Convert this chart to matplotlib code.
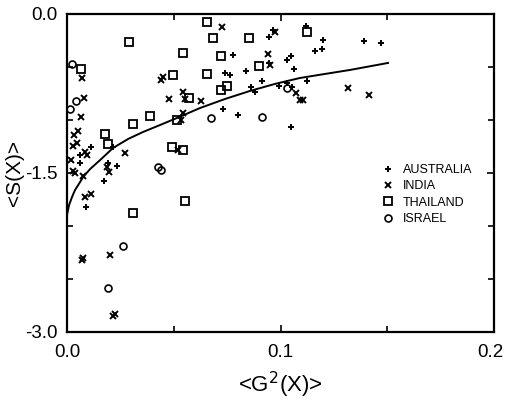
import matplotlib
matplotlib.use('Agg')
from matplotlib import pyplot as plt
from matplotlib import transforms

# values
aus_x = [0.0112, 0.0061, 0.0061, 0.0089, 0.0173, 0.0192, 0.0234, 0.0215, 0.0740, 0.0763,
         0.0731, 0.0801, 0.0778, 0.0946, 0.1119, 0.1199, 0.1162, 0.1194, 0.0946, 0.1030,
         0.1049, 0.1063, 0.0838, 0.0913, 0.0862, 0.0881, 0.0993, 0.1054, 0.1124, 0.1049,
         0.1391, 0.1471, 0.1030, 0.0965]
aus_y = [-1.255, -1.330, -1.406, -1.821, -1.575, -1.406, -1.434, -1.255, -0.557, -0.575,
         -0.896, -0.953, -0.387, -0.217, -0.113, -0.245, -0.349, -0.330, -0.462, -0.434,
         -0.396, -0.519, -0.538, -0.632, -0.689, -0.736, -0.679, -0.689, -0.632, -1.066,
         -0.255, -0.274, -0.651, -0.151]

ind_x = [0.0033, 0.0052, 0.0028, 0.0047, 0.0084, 0.0094, 0.0019, 0.0028, 0.0037, 0.0075,
         0.0084, 0.0112, 0.0070, 0.0075, 0.0201, 0.0225, 0.0215, 0.0070, 0.0080, 0.0066,
         0.0187, 0.0197, 0.0272, 0.0440, 0.0450, 0.0543, 0.0478, 0.0553, 0.0628, 0.0543,
         0.0534, 0.0520, 0.0726, 0.0974, 0.0941, 0.0951, 0.1073, 0.1091, 0.1105, 0.1316,
         0.1415]
ind_y = [-1.142, -1.104, -1.245, -1.217, -1.302, -1.330, -1.377, -1.481, -1.500, -1.528,
         -1.726, -1.698, -2.321, -2.300, -2.274, -2.830, -2.849, -0.604, -0.792, -0.972,
         -1.443, -1.491, -1.311, -0.623, -0.594, -0.736, -0.802, -0.802, -0.821, -0.934,
         -1.000, -1.283, -0.123, -0.170, -0.377, -0.481, -0.745, -0.811, -0.811, -0.698,
         -0.764]

tha_x = [0.0066, 0.0290, 0.0656, 0.0543, 0.0656, 0.0496, 0.0571, 0.0389, 0.0309, 0.0515,
         0.0178, 0.0192, 0.0492, 0.0543, 0.0553, 0.0309, 0.0684, 0.0852, 0.0721, 0.0899,
         0.0749, 0.0721, 0.1124]
tha_y = [-0.519, -0.264, -0.075, -0.368, -0.566, -0.575, -0.792, -0.962, -1.038, -1.000,
         -1.132, -1.226, -1.255, -1.283, -1.764, -1.877, -0.226, -0.226, -0.396, -0.491,
         -0.679, -0.717, -0.170]

isr_x = [0.0023, 0.0042, 0.0014, 0.0426, 0.0440, 0.0674, 0.0913, 0.1030, 0.0262, 0.0192]
isr_y = [-0.472, -0.821, -0.896, -1.443, -1.472, -0.981, -0.972, -0.698, -2.189, -2.585]

# fitted curve
fit_x = [0.0, 0.0009, 0.0023, 0.0037, 0.0052, 0.0075, 0.0108, 0.0155, 0.0215, 0.0286,
         0.0356, 0.0436, 0.0515, 0.0623, 0.0740, 0.0857, 0.0974, 0.1091, 0.1208, 0.1326,
         0.1504]
fit_y = [-1.887, -1.802, -1.726, -1.660, -1.613, -1.538, -1.462, -1.377, -1.264, -1.179,
         -1.113, -1.047, -0.981, -0.887, -0.802, -0.726, -0.660, -0.604, -0.566, -0.528,
         -0.462]

plt.rcParams['font.family'] = ['Liberation Sans', 'DejaVu Sans']

fig = plt.figure(figsize=(5.05, 3.99), dpi=100)
ax = fig.add_axes([0.133, 0.168, 0.845, 0.797])

ax.plot(aus_x, aus_y, 'k+', ms=5, mew=1.4, label='AUSTRALIA')
ax.plot(ind_x, ind_y, 'kx', ms=4.5, mew=1.4, label='INDIA')
ax.plot(tha_x, tha_y, 'ks', ms=5.5, mew=1.3, mfc='none', label='THAILAND')
ax.plot(isr_x, isr_y, 'ko', ms=5, mew=1.2, mfc='none', label='ISRAEL')
ax.plot(fit_x, fit_y, 'k-', lw=1.4)

ax.set_xlim(0, 0.2)
ax.set_ylim(-3.0, 0.0)
ax.set_xticks([0.0, 0.1, 0.2])
ax.set_xticklabels(['0.0', '0.1', '0.2'])
ax.set_xticks([0.05, 0.15], minor=True)
ax.set_yticks([-3.0, -1.5, 0.0])
ax.set_yticklabels(['-3.0', '-1.5', '0.0'])
ax.set_yticks([-2.5, -2.0, -1.0, -0.5], minor=True)
ax.tick_params(which='both', direction='in', top=True, right=True, width=1.2)
ax.tick_params(which='major', length=5, labelsize=13.5)
ax.tick_params(axis='x', which='major', pad=9)
ax.tick_params(axis='y', which='major', pad=7)
ax.tick_params(which='minor', length=4)
for s in ax.spines.values():
    s.set_linewidth(1.6)

# the last x label sits against the right border; pull it in a little
last = ax.get_xticklabels()[-1]
last.set_transform(last.get_transform() +
                   transforms.ScaledTranslation(-4 / 100, 0, fig.dpi_scale_trans))

ax.set_xlabel('<G$^2$(X)>', fontsize=16, labelpad=6)
ax.set_ylabel('<S(X)>', fontsize=15, labelpad=1)

ax.legend(loc='upper left', bbox_to_anchor=(0.71, 0.56), frameon=False,
          prop={'size': 9}, handlelength=1.2, handletextpad=0.6, labelspacing=0.35,
          borderpad=0.3)

fig.savefig('out.png', dpi=100)
